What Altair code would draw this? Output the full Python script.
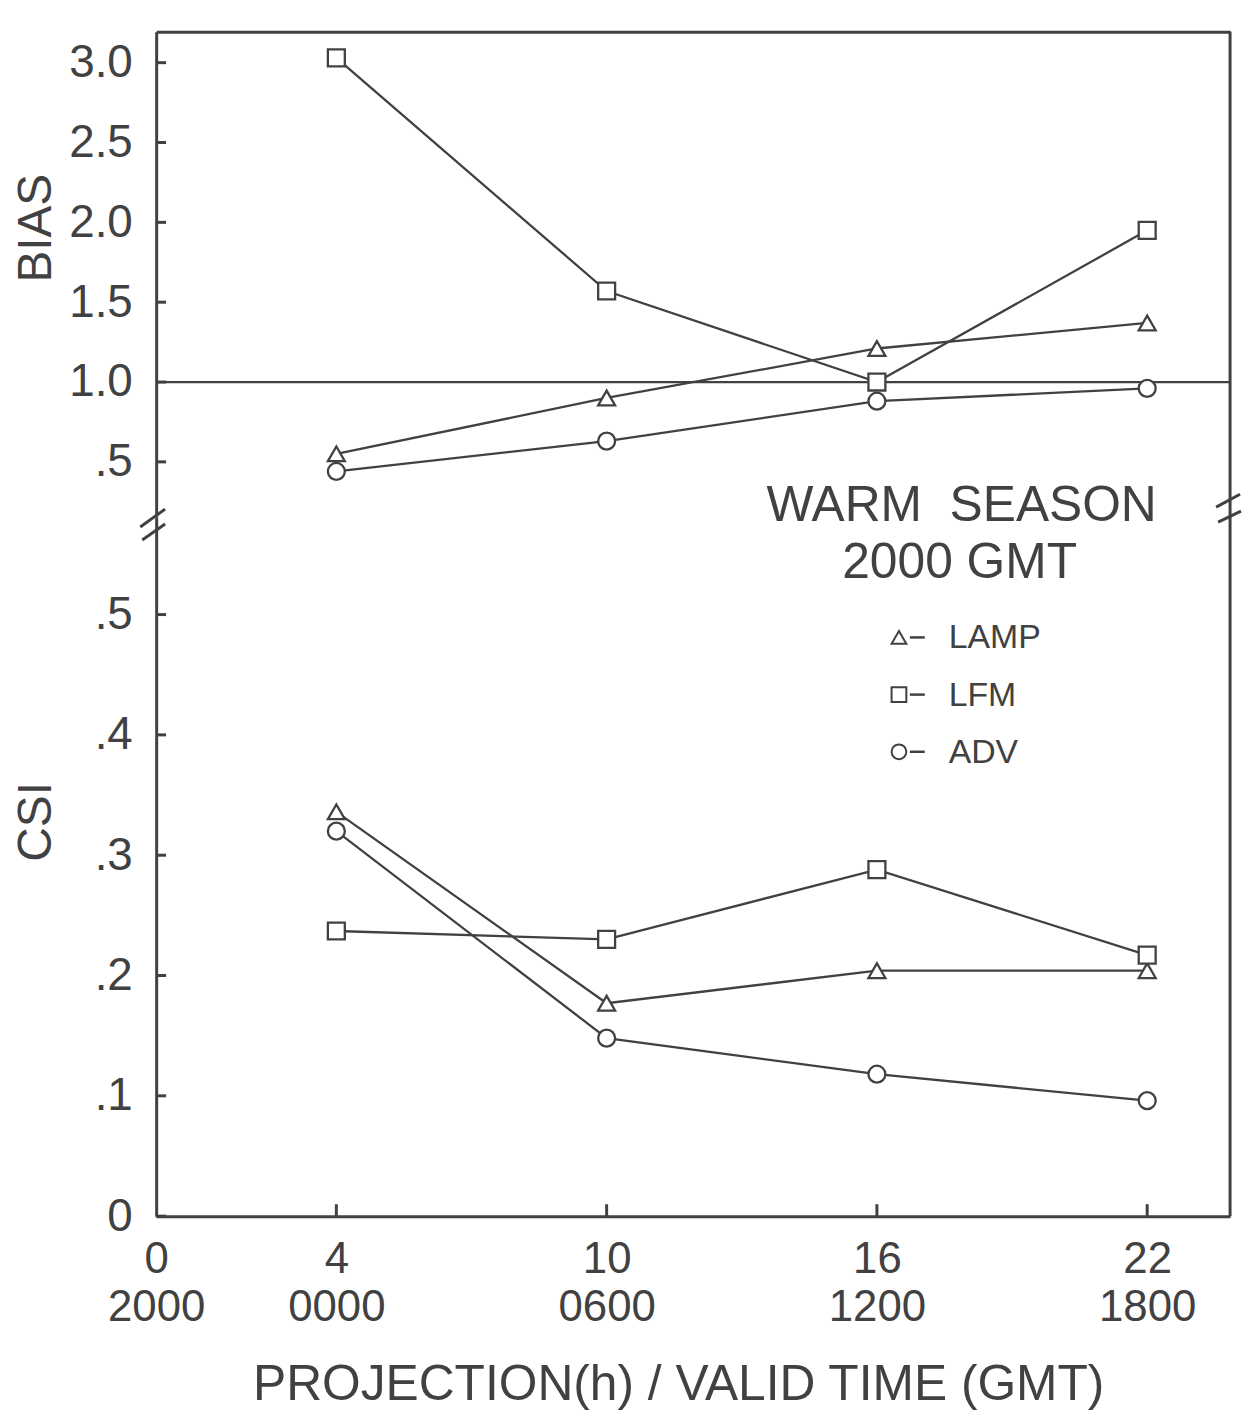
import altair as alt
import pandas as pd

# ---------------- data ----------------
SERIES = ["LAMP", "LFM", "ADV"]
SHAPES = ["triangle-up", "square", "circle"]
HOURS = [4, 10, 16, 22]

BIAS_LAMP = [0.55, 0.90, 1.21, 1.37]
BIAS_LFM = [3.03, 1.57, 1.00, 1.95]
BIAS_ADV = [0.44, 0.63, 0.88, 0.96]

CSI_LAMP = [0.336, 0.177, 0.204, 0.204]
CSI_LFM = [0.237, 0.230, 0.288, 0.217]
CSI_ADV = [0.320, 0.148, 0.118, 0.096]

BIAS_REF = [1.0]

X_TICKS = [0, 4, 10, 16, 22]
X_LABELS_H = ["0", "4", "10", "16", "22"]
X_LABELS_T = ["2000", "0000", "0600", "1200", "1800"]
BIAS_TICKS = [0.5, 1.0, 1.5, 2.0, 2.5, 3.0]
BIAS_LABELS = [".5", "1.0", "1.5", "2.0", "2.5", "3.0"]
CSI_TICKS = [0.0, 0.1, 0.2, 0.3, 0.4, 0.5]
CSI_LABELS = ["0", ".1", ".2", ".3", ".4", ".5"]

X_DOMAIN = [0, 23.84]
BIAS_DOMAIN = [0.154, 3.193]
CSI_DOMAIN = [0, 0.581]

X_TITLE = "PROJECTION(h) / VALID TIME (GMT)"
NOTE_1 = "WARM\u00a0 SEASON"
NOTE_2 = "2000 GMT"

# ---------------- style ----------------
INK = "#414141"
FONT = "Liberation Sans"
W = 1080
H_TOP = 488
H_BOT = 703

rows = []
for s, b, c in zip(SERIES, [BIAS_LAMP, BIAS_LFM, BIAS_ADV], [CSI_LAMP, CSI_LFM, CSI_ADV]):
    for h, bv, cv in zip(HOURS, b, c):
        rows.append({"series": s, "hour": h, "bias": bv, "csi": cv})
df = pd.DataFrame(rows)


def label_expr(values, labels):
    parts = [f"abs(datum.value - {v}) < 0.000001 ? '{l}'" for v, l in zip(values, labels)]
    return " : ".join(parts) + " : ''"


x_label_expr = " : ".join(
    f"abs(datum.value - {v}) < 0.000001 ? ['{h}', '{t}']"
    for v, h, t in zip(X_TICKS, X_LABELS_H, X_LABELS_T)
) + " : ''"

x_scale = alt.Scale(domain=X_DOMAIN, nice=False, zero=False)
shape_scale = alt.Scale(domain=SERIES, range=SHAPES)

common_axis = dict(grid=False, ticks=False, domainWidth=3, domainColor=INK,
                   labelFont=FONT, labelColor=INK, labelOverlap=False, labelFlush=False)

X_TOP = alt.X("hour:Q", scale=x_scale,
              axis=alt.Axis(orient="top", labels=False, ticks=False, grid=False,
                            domainWidth=3, domainColor=INK, title=None))
X_BOT = alt.X("hour:Q", scale=x_scale,
              axis=alt.Axis(values=X_TICKS, labelExpr=x_label_expr, labelFontSize=44,
                            labelPadding=22, labelLineHeight=48,
                            title=X_TITLE, titleFont=FONT, titleFontSize=50,
                            titleFontWeight="normal", titleColor=INK, titleX=525,
                            titleY=184, titleAlign="center", titleBaseline="alphabetic",
                            **common_axis))
Y_BIAS = alt.Y("bias:Q", scale=alt.Scale(domain=BIAS_DOMAIN, nice=False, zero=False),
               axis=alt.Axis(values=BIAS_TICKS, labelExpr=label_expr(BIAS_TICKS, BIAS_LABELS),
                             labelFontSize=46, labelPadding=24,
                             title="BIAS", titleFont=FONT, titleFontSize=48,
                             titleFontWeight="normal", titleColor=INK, titleAngle=270,
                             titleX=-106, titleY=197, titleAlign="center",
                             titleBaseline="alphabetic", **common_axis))
Y_CSI = alt.Y("csi:Q", scale=alt.Scale(domain=CSI_DOMAIN, nice=False, zero=False),
              axis=alt.Axis(values=CSI_TICKS, labelExpr=label_expr(CSI_TICKS, CSI_LABELS),
                            labelFontSize=46, labelPadding=24,
                            title="CSI", titleFont=FONT, titleFontSize=48,
                            titleFontWeight="normal", titleColor=INK, titleAngle=270,
                            titleX=-106, titleY=306, titleAlign="center",
                            titleBaseline="alphabetic", **common_axis))


def panel(X, Y, field, ticks):
    base = alt.Chart(df)
    lines = base.mark_line(color=INK, strokeWidth=2.3).encode(x=X, y=Y, detail="series:N")
    pts = base.mark_point(filled=True, fill="white", stroke=INK, strokeWidth=2.3,
                          size=290, opacity=1).encode(
        x=X, y=Y, shape=alt.Shape("series:N", scale=shape_scale, legend=None))
    yticks = alt.Chart(pd.DataFrame({field: ticks})).mark_rule(
        color=INK, strokeWidth=3).encode(y=Y, x=alt.value(0), x2=alt.value(10))
    border = alt.Chart(pd.DataFrame({"hour": [X_DOMAIN[1]]})).mark_rule(
        color=INK, strokeWidth=3).encode(x=X)
    return lines, pts, yticks, border


# ---------------- top panel (BIAS) ----------------
t_lines, t_pts, t_ticks, t_border = panel(X_TOP, Y_BIAS, "bias", BIAS_TICKS)
ref = alt.Chart(pd.DataFrame({"bias": BIAS_REF})).mark_rule(
    color=INK, strokeWidth=2.3).encode(y=Y_BIAS)
top = alt.layer(ref, t_lines, t_pts, t_ticks, t_border).properties(width=W, height=H_TOP)

# ---------------- bottom panel (CSI) ----------------
b_lines, b_pts, b_ticks, b_border = panel(X_BOT, Y_CSI, "csi", CSI_TICKS)
xticks = alt.Chart(pd.DataFrame({"hour": HOURS})).mark_rule(
    color=INK, strokeWidth=3).encode(x=X_BOT, y=alt.value(H_BOT), y2=alt.value(H_BOT - 12))

one = pd.DataFrame({"k": [0]})
notes = [
    alt.Chart(pd.DataFrame({"t": [NOTE_1]})).mark_text(
        font=FONT, fontSize=50, color=INK, align="center", baseline="middle").encode(
        text="t:N", x=alt.value(810), y=alt.value(-11)),
    alt.Chart(pd.DataFrame({"t": [NOTE_2]})).mark_text(
        font=FONT, fontSize=50, color=INK, align="center", baseline="middle").encode(
        text="t:N", x=alt.value(808), y=alt.value(46)),
]

legend_layers = []
for i, s in enumerate(SERIES):
    yy = 121 + i * 57.5
    d = pd.DataFrame({"series": [s]})
    legend_layers.append(alt.Chart(d).mark_point(
        filled=True, fill="white", stroke=INK, strokeWidth=2, size=220, opacity=1).encode(
        shape=alt.Shape("series:N", scale=shape_scale, legend=None),
        x=alt.value(747), y=alt.value(yy)))
    legend_layers.append(alt.Chart(d).mark_rule(color=INK, strokeWidth=2.5).encode(
        x=alt.value(758), x2=alt.value(773), y=alt.value(yy)))
    legend_layers.append(alt.Chart(d).mark_text(
        font=FONT, fontSize=34, color=INK, align="left", baseline="middle").encode(
        text="series:N", x=alt.value(797), y=alt.value(yy + 1)))

breaks = []
for (x1, y1, x2, y2) in [(-16, 10, 9, -8), (-14, 23, 9, 7),
                         (W - 14, -10, W + 10, -23), (W - 12, 5, W + 11, -6)]:
    breaks.append(alt.Chart(one).mark_rule(color=INK, strokeWidth=3).encode(
        x=alt.value(x1), y=alt.value(y1), x2=alt.value(x2), y2=alt.value(y2)))

bottom = alt.layer(b_lines, b_pts, b_ticks, xticks, b_border, *notes, *legend_layers,
                   *breaks).properties(width=W, height=H_BOT)

chart = alt.vconcat(top, bottom, spacing=0, bounds="flush").resolve_scale(
    x="independent", y="independent", shape="shared"
).configure_view(strokeWidth=0).properties(
    padding={"left": 5, "top": 18, "right": 0, "bottom": 5}, background="white")

chart.save("out.html", embed_options={"renderer": "svg", "actions": False})
